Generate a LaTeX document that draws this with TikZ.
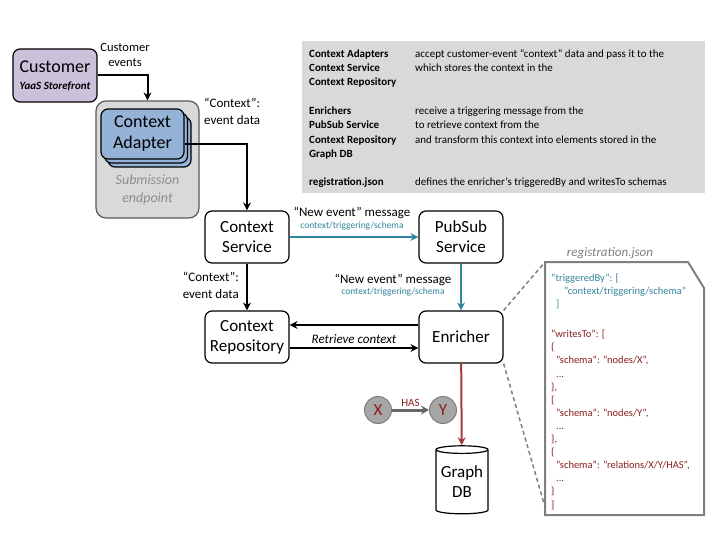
\documentclass[tikz,border=0pt]{standalone}
\usepackage{fontspec}
\setmainfont{Carlito}
\usetikzlibrary{arrows.meta,shapes.geometric,shadows}

\definecolor{custpurple}{HTML}{CCC1DA}
\definecolor{adapterblue}{HTML}{95B3D7}
\definecolor{boxgrey}{HTML}{D9D9D9}
\definecolor{edgegrey}{HTML}{7F7F7F}
\definecolor{msgteal}{HTML}{31859C}
\definecolor{jsonred}{HTML}{8B1E1E}
\definecolor{dbred}{HTML}{A33B3B}
\definecolor{nodegrey}{HTML}{A6A6A6}

\begin{document}
\begin{tikzpicture}[x=1pt,y=-1pt,
  box/.style={draw=black, line width=1.2pt, rounded corners=7pt, fill=white,
    minimum width=84pt, minimum height=52pt, align=center, inner sep=0pt,
    font=\fontsize{17}{20}\selectfont},
  arr/.style={line width=2pt, -{Stealth[length=8pt,width=8pt]}},
  msg/.style={arr, draw=msgteal},
  lbl/.style={font=\fontsize{13}{17}\selectfont, align=center, inner sep=0pt},
  schema/.style={font=\fontsize{9.5}{11}\selectfont, text=msgteal, inner sep=0pt},
  gnode/.style={circle, draw=edgegrey, fill=nodegrey, line width=1pt,
    minimum size=27pt, inner sep=0pt, text=jsonred,
    font=\fontsize{17}{20}\selectfont},
  json/.style={anchor=north west, align=left, inner sep=0pt,
    font=\fontsize{10.5}{13.1}\selectfont}
]
\useasboundingbox (0,0) rectangle (720,540);

% legend
\fill[boxgrey] (302,41) rectangle (705,193);
\node[anchor=north west, inner sep=0pt, font=\fontsize{11}{14.3}\selectfont] (legend) at (309,47) {%
  \begin{tabular}{@{}p{106pt}@{}l@{}}
  \textbf{Context Adapters} & accept customer-event “context” data and pass it to the\\
  \textbf{Context Service} & which stores the context in the\\
  \textbf{Context Repository} & \\
  & \\
  \textbf{Enrichers} & receive a triggering message from the\\
  \textbf{PubSub Service} & to retrieve context from the\\
  \textbf{Context Repository} & and transform this context into elements stored in the\\
  \textbf{Graph DB} & \\
  & \\
  \textbf{registration.json} & defines the enricher’s triggeredBy and writesTo schemas
  \end{tabular}};

% customer side
\node[box, fill=custpurple, minimum width=84pt, minimum height=53pt,
  font=\fontsize{18}{20}\selectfont] (customer) at (55,75.5)
  {Customer\\[-3pt]{\fontsize{11}{12}\selectfont\bfseries\itshape YaaS Storefront}};
\node[lbl, font=\fontsize{12.5}{15}\selectfont] (custlbl) at (125,55) {Customer\\events};

\node[box, fill=boxgrey, draw=black!65, rounded corners=10pt,
  minimum width=103pt, minimum height=117pt] (submit) at (147.5,159.5) {};
\node[box, fill=adapterblue, minimum width=83pt, minimum height=50pt,
  font=\fontsize{18}{21}\selectfont,
  double copy shadow={shadow xshift=3.5pt, shadow yshift=-4pt}] (adapter) at (142.5,134)
  {Context\\Adapter};
\node[lbl, font=\fontsize{14}{18}\selectfont\itshape, text=black!45] (submitlbl) at (147.5,190)
  {Submission\\endpoint};

\draw[arr] (customer.east) -| (submit.north);

% services
\node[box] (service) at (247,237) {Context\\Service};
\node[box] (pubsub) at (461,237) {PubSub\\Service};
\node[box] (repo) at (247,337) {Context\\Repository};
\node[box] (enricher) at (461,337) {Enricher};

\draw[arr] ([yshift=-10pt]adapter.east) -| (service.north);
\node[lbl, align=left, anchor=west] (ctxlbl) at (204,111.5) {“Context”:\\event data};

\draw[msg] (service) -- (pubsub);
\node[lbl] (newlbl) at (352,213) {“New event” message};
\node[schema] (newschema) at (352,226) {context/triggering/schema};

\draw[arr] (service) -- (repo);
\node[lbl, align=right, anchor=east] (ctxlbl2) at (239,285) {“Context”:\\event data};

\draw[msg] (pubsub) -- (enricher);
\node[lbl] (newlbl2) at (393,280) {“New event” message};
\node[schema] (newschema2) at (393,292) {context/triggering/schema};

\draw[arr] ([yshift=12pt]enricher.west) -- ([yshift=12pt]repo.east);
\draw[arr] ([yshift=-11pt]repo.east) -- ([yshift=-11pt]enricher.west)
  node[lbl, midway, above=3pt, font=\fontsize{13}{16}\selectfont\itshape] (retrieve) {Retrieve context};

% graph db
\node[cylinder, shape border rotate=90, aspect=0.18, draw=black, line width=1.2pt,
  fill=white, minimum width=52pt, minimum height=68pt, align=center, inner sep=0pt,
  font=\fontsize{17}{20}\selectfont] (graphdb) at (462,482) {Graph\\DB};
\draw[line width=2pt, draw=dbred, -{Stealth[length=8pt,width=8pt]}] (enricher) -- (graphdb);

\node[gnode] (gx) at (378,410) {X};
\node[gnode] (gy) at (443,410) {Y};
\draw[line width=3pt, draw=black!60, -{Stealth[length=8pt,width=9pt]}] (gx) -- (gy)
  node[midway, above=2pt, inner sep=0pt, text=jsonred, font=\fontsize{11}{12}\selectfont] (haslbl) {HAS};

% registration.json
\node[lbl, font=\fontsize{13}{16}\selectfont\itshape, text=edgegrey] (reglbl) at (610,253) {registration.json};
\draw[draw=edgegrey, line width=2pt, fill=white]
  (545,262) -- (688,262) -- (704,288) -- (704,515) -- (545,515) -- cycle;
\coordinate (jtl) at (545,262);
\coordinate (jbl) at (545,507);
\draw[draw=edgegrey, line width=1.5pt, dash pattern=on 4pt off 3pt] (enricher.north east) -- (jtl);
\draw[draw=edgegrey, line width=1.5pt, dash pattern=on 4pt off 3pt] (enricher.south east) -- (jbl);

\node[json, text=msgteal] (trig) at (551,274) {%
  "triggeredBy": [\\
  \hspace*{13pt}"context/triggering/schema"\\
  \hspace*{5pt}]};
\node[json, text=jsonred] (writes) at (551,330) {%
  "writesTo": [\\
  \{\\
  \hspace*{5pt}"schema": "nodes/X",\\
  \hspace*{5pt}...\\
  \},\\
  \{\\
  \hspace*{5pt}"schema": "nodes/Y",\\
  \hspace*{5pt}...\\
  \},\\
  \{\\
  \hspace*{5pt}"schema": "relations/X/Y/HAS",\\
  \hspace*{5pt}...\\
  \}\\
  ]};

\end{tikzpicture}
\end{document}
